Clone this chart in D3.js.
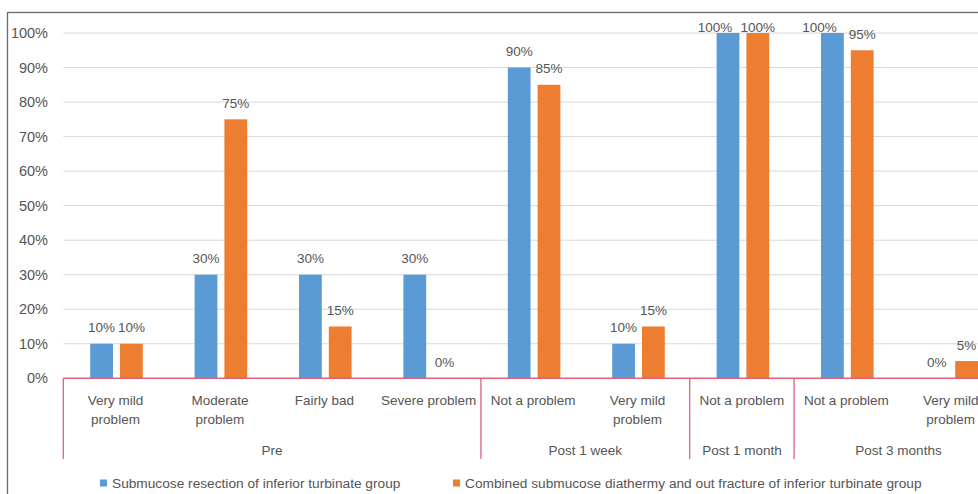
<!DOCTYPE html>
<html>
<head>
<meta charset="utf-8">
<script src="https://cdn.jsdelivr.net/npm/d3@7/dist/d3.min.js"></script>
<style>
  html, body { margin: 0; padding: 0; background: #fff; }
  svg { display: block; }
  text { font-family: "Liberation Sans", Arial, sans-serif; fill: #555555; }
</style>
</head>
<body>
<svg id="chart" width="978" height="494"></svg>
<script>
// Nasal obstruction severity by follow-up period, two surgical groups
const categories = [
  "Very mild\nproblem", "Moderate\nproblem", "Fairly bad", "Severe problem",
  "Not a problem", "Very mild\nproblem",
  "Not a problem",
  "Not a problem", "Very mild\nproblem"
];
const periods = ["Pre", "Post 1 week", "Post 1 month", "Post 3 months"];
const periodSizes = [4, 2, 1, 2];
const seriesNames = [
  "Submucose resection of inferior turbinate group",
  "Combined submucose diathermy and out fracture of inferior turbinate group"
];
const resectionValues = [10, 30, 30, 30, 90, 10, 100, 100, 0];
const diathermyValues = [10, 75, 15, 0, 85, 15, 100, 95, 5];
const yTicks = [0, 10, 20, 30, 40, 50, 60, 70, 80, 90, 100];
const colors = ["#5b9bd5", "#ed7d31"];

const svg = d3.select("#chart");
const plotLeft = 63.3, plotTop = 33, plotBottom = 378.3;
const catStep = 104.4;
const plotRight = plotLeft + catStep * categories.length;

// outer frame (extends past the visible area on the right and bottom)
svg.append("rect")
  .attr("x", 7.5).attr("y", 12.5)
  .attr("width", 1100).attr("height", 600)
  .attr("fill", "none").attr("stroke", "#6b6b6b").attr("stroke-width", 1.3);

const x = d3.scaleBand()
  .domain(d3.range(categories.length))
  .range([plotLeft, plotRight])
  .paddingInner(0).paddingOuter(0);

const inner = d3.scaleBand()
  .domain([0, 1])
  .range([-25.3, 27.3])
  .paddingInner(0.235).paddingOuter(0);

const y = d3.scaleLinear().domain([0, 100]).range([plotBottom, plotTop]);

// gridlines
svg.append("g")
  .selectAll("line")
  .data(yTicks.filter(d => d > 0))
  .join("line")
  .attr("x1", plotLeft).attr("x2", plotRight)
  .attr("y1", d => y(d)).attr("y2", d => y(d))
  .attr("stroke", "#d9d9d9").attr("stroke-width", 1);

// y axis labels
const yAxis = d3.axisLeft(y).tickValues(yTicks).tickFormat(d => d + "%").tickSize(0).tickPadding(0);
const gy = svg.append("g").attr("transform", `translate(48,0)`).call(yAxis);
gy.select(".domain").remove();
gy.selectAll("text")
  .attr("font-size", 14.5)
  .attr("font-family", "'Liberation Sans', Arial, sans-serif")
  .attr("fill", "#555555");

// bars
const series = [resectionValues, diathermyValues];
const barData = [];
series.forEach((vals, s) => vals.forEach((v, i) => barData.push({ s, i, v })));

svg.append("g")
  .selectAll("rect")
  .data(barData)
  .join("rect")
  .attr("x", d => x(d.i) + x.bandwidth() / 2 + inner(d.s))
  .attr("width", inner.bandwidth())
  .attr("y", d => y(d.v))
  .attr("height", d => y(0) - y(d.v))
  .attr("fill", d => colors[d.s]);

// value labels; labels that would leave the plot are held just under its top
const labelTop = 31.5;
svg.append("g")
  .selectAll("text")
  .data(barData)
  .join("text")
  .attr("x", d => {
    const cx = x(d.i) + x.bandwidth() / 2 + inner(d.s) + inner.bandwidth() / 2;
    const clamped = y(d.v) - 11.5 < labelTop;
    return clamped && d.s === 0 ? cx - 13 : cx;
  })
  .attr("y", d => Math.max(y(d.v) - 11.5, labelTop))
  .attr("text-anchor", "middle")
  .attr("font-size", 13.5)
  .text(d => d.v + "%");

// category axis line and group separators
const axisColor = "#e2607a";
svg.append("line")
  .attr("x1", plotLeft).attr("x2", plotRight)
  .attr("y1", plotBottom).attr("y2", plotBottom)
  .attr("stroke", axisColor).attr("stroke-width", 1.5);

const bounds = [0];
periodSizes.forEach(n => bounds.push(bounds[bounds.length - 1] + n));
svg.append("g")
  .selectAll("line")
  .data(bounds)
  .join("line")
  .attr("x1", d => plotLeft + d * catStep).attr("x2", d => plotLeft + d * catStep)
  .attr("y1", plotBottom).attr("y2", 459)
  .attr("stroke", axisColor).attr("stroke-width", 1.3);

// category labels
const catLabels = svg.append("g")
  .selectAll("text")
  .data(categories)
  .join("text")
  .attr("text-anchor", "middle")
  .attr("font-size", 13.5)
  .attr("transform", (d, i) => `translate(${x(i) + x.bandwidth() / 2},405)`);
catLabels.selectAll("tspan")
  .data(d => d.split("\n"))
  .join("tspan")
  .attr("x", 0)
  .attr("dy", (d, j) => j === 0 ? 0 : 19)
  .text(d => d);

// period labels
svg.append("g")
  .selectAll("text")
  .data(periods)
  .join("text")
  .attr("x", (d, k) => plotLeft + (bounds[k] + bounds[k + 1]) / 2 * catStep)
  .attr("y", 455)
  .attr("text-anchor", "middle")
  .attr("font-size", 13.5)
  .text(d => d);

// legend
const legendX = [100, 453];
const legend = svg.append("g")
  .selectAll("g")
  .data(seriesNames)
  .join("g")
  .attr("transform", (d, i) => `translate(${legendX[i]},483)`);
legend.append("rect")
  .attr("x", 0).attr("y", -3.5)
  .attr("width", 7).attr("height", 7)
  .attr("fill", (d, i) => colors[i]);
legend.append("text")
  .attr("x", 12).attr("y", 5)
  .attr("font-size", 13.7)
  .text(d => d);
</script>
</body>
</html>
